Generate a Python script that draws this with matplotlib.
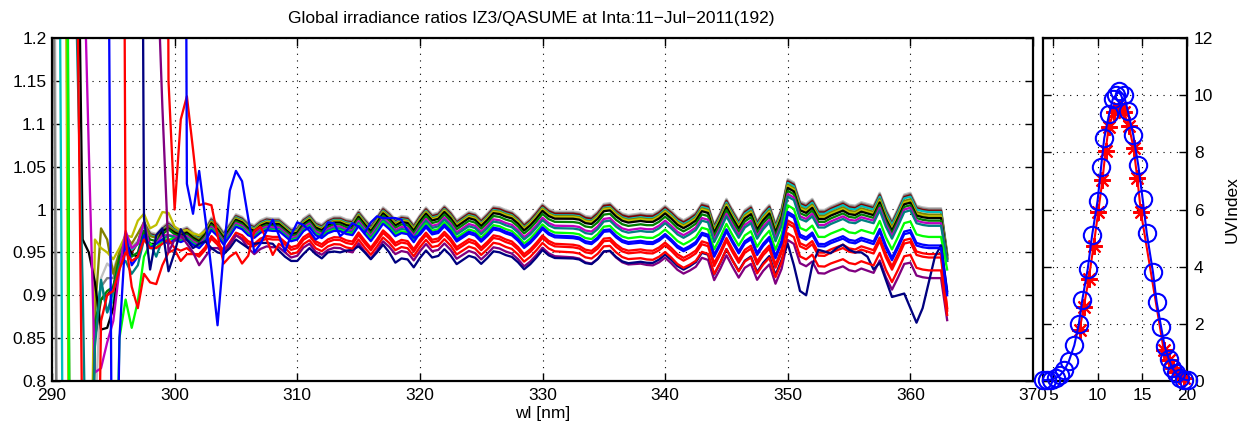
import numpy as np
import matplotlib
matplotlib.use('Agg')
import matplotlib.pyplot as plt

plt.rcParams['font.family'] = ['Liberation Sans', 'DejaVu Sans']

# ---------------- data ----------------
H = 3.0   # off-scale high value (clipped)
L = 0.4   # off-scale low value (clipped)

wl = 290 + 0.5 * np.arange(147)          # 290.0 ... 363.0 nm
band_wl = wl[12:]                        # 296.0 ... 363.0 nm

# common spectral structure of the ratio (upper grey curve), 296.0-363.0 nm
base = [
    0.965, 0.955, 0.962, 0.985, 0.972, 0.970, 0.978, 0.984, 0.978, 0.975,
    0.978, 0.972, 0.968, 0.976, 0.989, 0.982, 0.972, 0.982, 0.993, 0.990,
    0.983, 0.980, 0.986, 0.989, 0.988, 0.988, 0.982, 0.976, 0.978, 0.988,
    0.993, 0.984, 0.981, 0.987, 0.990, 0.990, 0.987, 0.986, 0.997, 0.988,
    0.980, 0.990, 1.001, 0.995, 0.987, 0.991, 0.990, 0.981, 0.992, 1.001,
    0.993, 0.995, 1.003, 0.996, 0.986, 0.991, 0.996, 0.994, 0.987, 0.994,
    1.002, 1.001, 0.998, 0.996, 0.990, 0.982, 0.988, 0.996, 1.005, 0.999,
    0.996, 0.996, 0.996, 0.996, 0.995, 0.991, 0.990, 0.996, 1.005, 1.006,
    0.999, 0.994, 0.992, 0.993, 0.994, 0.993, 0.993, 0.997, 1.003, 0.997,
    0.990, 0.986, 0.990, 0.995, 1.006, 1.004, 0.981, 0.995, 1.011, 0.998,
    0.986, 0.998, 1.003, 0.985, 0.996, 1.004, 0.982, 1.000, 1.034, 1.030,
    1.008, 1.005, 1.011, 0.998, 0.998, 1.002, 1.005, 1.008, 1.004, 1.003,
    1.007, 1.005, 1.003, 1.018, 0.999, 0.985, 1.000, 1.016, 1.018, 1.003,
    1.001, 1.000, 1.000, 1.000, 0.948,
]
off_wl = [310, 335, 360]   # wavelengths of the offset readings

# per-scan readings (short-wavelength part, offsets from the grey curve, last value)
gray_early = [1.6, 0.4, 0.4, 0.4, 0.4, 0.4, 0.5, 0.88, 0.91, 0.92, 0.92, 0.945]
silver_early = [1.9, 0.5, 0.5, 0.5, 0.5, 0.5, 0.5, 0.75, 0.92, 0.937, 0.93, 0.95]
cyan_early = [2.5, 1.6, 0.4, 0.4, 0.4, 0.4, 0.5, 0.86, 0.915, 0.88, 0.895, 0.95]
yellow_early = [H, H, 1.6, 0.4, 0.4, 0.4, 0.5, 0.965, 0.955, 0.950, 0.942, 0.955,
                0.970, 0.968, 0.987, 0.995, 0.978, 0.982, 0.997, 0.996, 0.980,
                0.975, 0.976, 0.972, 0.970, 0.975]
dkgreen_early = [H, H, 2.4, 0.4, 0.4, 0.4, 0.5, 0.87, 0.895, 0.905, 0.91, 0.945,
                 0.955, 0.945, 0.95, 0.975]
olive_early = [H, H, 2.2, 0.4, 0.4, 0.4, 0.5, 0.88, 0.978, 0.965, 0.925, 0.95,
               0.97, 0.96, 0.972, 0.985]
maroon_early = [H, H, 2.0, 0.4, 0.4, 0.4, 0.5, 0.85, 0.895, 0.9, 0.91, 0.94,
                0.96, 0.95]
teal_early = [H, H, H, H, 1.22, 0.91, 0.5, 0.84, 0.918, 0.88, 0.905, 0.935,
              0.94, 0.925, 0.935, 0.965, 0.96, 0.945, 0.965, 0.97]
black_early = [H, H, H, H, 1.5, 0.965, 0.95, 0.915, 0.86, 0.862, 0.885, 0.935,
               0.962, 0.948, 0.945, 0.975, 0.96, 0.96, 0.975, 0.978]
magenta_early = [H, H, H, H, H, 1.35, 1.07, 0.81, 0.815, 0.845, 0.87, 0.93,
                 0.975, 0.955, 0.96, 0.985, 0.955, 0.96, 0.97, 0.97]
green_early = [H, H, 2.3, 0.4, 0.4, 0.4, 0.4, 0.4, 0.4, 0.4, 0.5, 0.85,
               0.895, 0.862, 0.893, 0.945, 0.96, 0.955, 0.965, 0.965]
blue1_early = [H, H, H, H, H, H, H, H, H, 1.6, 0.4, 0.85,
               0.972, 0.935, 0.945, 0.97, 0.955, 0.96, 0.965, 0.96]
redB_early = [H, H, H, H, 1.35, 0.7, 0.4, 0.4, 0.87, 0.9, 0.905, 0.93,
              0.95, 0.94, 0.945, 0.965, 0.955, 0.955, 0.96, 0.965]
redA_early = [H, H, H, H, H, H, H, H, H, H, H, 2.6,
              0.965, 0.91, 0.885, 0.925, 0.915, 0.913, 0.935, 0.95, 0.953,
              0.94, 0.948, 0.948, 0.948]
purple_early = [H] * 17 + [1.32, 1.12, 0.95, 0.965, 0.97, 0.96, 0.95, 0.935,
                           0.945, 0.955, 0.955, 0.95, 0.96, 0.97, 0.965, 0.955]
navy_early = [H] * 14 + [2.5, 0.99, 0.93, 0.97, 0.978, 0.928, 0.95, 0.977, 0.965,
                         0.955, 0.96, 0.963, 0.955, 0.95, 0.948, 0.955, 0.965,
                         0.96, 0.955, 0.96, 0.961, 0.961, 0.96, 0.952, 0.945,
                         0.94, 0.94, 0.948, 0.955, 0.948, 0.943, 0.95, 0.951,
                         0.95, 0.952, 0.953, 0.957, 0.95, 0.942, 0.95, 0.959,
                         0.95, 0.938]
navy_tail = [0.960, 0.935, 0.905, 0.900, 0.935, 0.953, 0.951, 0.949, 0.955,
             0.959, 0.953, 0.950, 0.950, 0.945, 0.930, 0.938, 0.918, 0.898,
             0.900, 0.902, 0.885, 0.868, 0.885, 0.915, 0.945, 0.958, 0.903]
redC_early = [H] * 19 + [1.15, 1.0, 1.105, 1.132, 1.07, 1.005, 1.007, 1.005,
                         0.97, 0.937, 0.945, 0.95, 0.937, 0.946, 0.975, 0.98,
                         0.965, 0.947, 0.96, 0.955]
blueE_early = [H] * 22 + [1.03, 0.995, 1.045, 0.99, 0.93, 0.865, 0.95, 1.022,
                          1.045, 1.033, 0.99, 0.95, 0.96, 0.975, 0.988, 0.97,
                          0.951, 0.97, 0.985, 0.982, 0.975, 0.965, 0.97, 0.985,
                          0.984, 0.969, 0.975, 0.984, 0.98, 0.973, 0.985, 0.992,
                          0.99, 0.99, 0.99, 0.988, 0.975, 0.967]

scan_colors = ['#c0c0c0', '#808080', '#800000', 'c', '#808000', 'y', 'k',
               '#008000', 'm', '#008080', '#00ff00', 'b', '#ff0000', '#ff0000',
               '#800080', '#000080', '#ff0000', '#0000ff']
scan_early = [silver_early, gray_early, maroon_early, cyan_early, olive_early,
              yellow_early, black_early, dkgreen_early, magenta_early,
              teal_early, green_early, blue1_early, redB_early, redA_early,
              purple_early, navy_early, redC_early, blueE_early]
scan_offsets = [(0.0015, 0.0015, 0.0015), (0, 0, 0), (-0.001, -0.001, -0.0015),
                (-0.002, -0.003, -0.003), (-0.003, -0.004, -0.006),
                (-0.004, -0.005, -0.008), (-0.005, -0.007, -0.010),
                (-0.007, -0.011, -0.013), (-0.009, -0.016, -0.016),
                (-0.011, -0.019, -0.019), (-0.012, -0.025, -0.032),
                (-0.013, -0.029, -0.042), (-0.023, -0.042, -0.056),
                (-0.020, -0.039, -0.052), (-0.032, -0.054, -0.080),
                (-0.045, -0.054, -0.062), (-0.028, -0.048, -0.071),
                (-0.015, -0.031, -0.045)]
scan_end = [0.950, 0.948, 0.947, 0.946, 0.945, 0.944, 0.943, 0.942, 0.940,
            0.940, 0.930, 0.905, 0.882, 0.885, 0.871, None, 0.877, 0.900]

# UV index time series
qasume_hours = [3.95, 4.3, 4.8, 5.3, 5.8, 6.3, 6.8, 7.4, 7.9, 8.3, 8.9, 9.4,
                10.0, 10.4, 10.75, 11.3, 11.7, 12.05, 12.45, 12.95, 13.4,
                14.0, 14.55, 15.05, 15.5, 16.2, 16.6, 17.1, 17.5, 17.95,
                18.35, 18.8, 19.2, 19.7, 20.15]
qasume_uvi = [0.03, 0.03, 0.05, 0.1, 0.2, 0.38, 0.7, 1.25, 1.98, 2.85, 3.92,
              5.12, 6.3, 7.5, 8.5, 9.35, 9.86, 10.0, 10.15, 10.0, 9.43, 8.6,
              7.55, 6.35, 5.17, 3.8, 2.78, 1.9, 1.22, 0.78, 0.45, 0.27, 0.12,
              0.05, 0.02]
iz3_hours = [8.0, 8.45, 9.02, 9.55, 10.07, 10.55, 10.9, 11.25, 11.85, 12.4,
             12.95, 13.5, 14.03, 14.44, 14.85, 17.4, 17.95, 18.42, 18.8,
             19.25, 19.65]
iz3_uvi = [1.8, 2.58, 3.58, 4.72, 5.9, 7.04, 8.06, 8.9, 9.42, 9.55, 9.4, 8.92,
           8.15, 7.1, 5.9, 1.08, 0.72, 0.45, 0.3, 0.16, 0.1]

xticks_main = [290, 300, 310, 320, 330, 340, 350, 360, 370]
yticks_main = [0.8, 0.85, 0.9, 0.95, 1.0, 1.05, 1.1, 1.15, 1.2]
yticklabels_main = ['0.8', '0.85', '0.9', '0.95', '1', '1.05', '1.1', '1.15', '1.2']
xticks_uv = [5, 10, 15, 20]
yticks_uv = [0, 2, 4, 6, 8, 10, 12]


def build(early, offs, end, tail=None):
    band = np.array(base, float) + np.interp(band_wl, off_wl, offs)
    y = np.concatenate([np.full(12, np.nan), band])
    y[:len(early)] = early
    if tail is not None:
        y[-len(tail):] = tail
    else:
        y[-1] = end
    return y


# ---------------- figure ----------------
W, Hp = 1249, 432
fig = plt.figure(figsize=(W / 100, Hp / 100), dpi=100)
FS = 12.5
grid_kw = dict(linestyle=(0, (1, 5)), color='k', linewidth=0.8)

ax = fig.add_axes([52 / W, 1 - 381 / Hp, (1033 - 52) / W, (381 - 38) / Hp])
for c, e, o, en in zip(scan_colors, scan_early, scan_offsets, scan_end):
    tail = navy_tail if en is None else None
    ax.plot(wl, build(e, o, en, tail), color=c, lw=1.65)

ax.set_xlim(290, 370)
ax.set_ylim(0.8, 1.2)
ax.set_xticks(xticks_main)
ax.set_yticks(yticks_main)
ax.set_yticklabels(yticklabels_main)
ax.grid(True, **grid_kw)
ax.set_axisbelow(True)
ax.tick_params(direction='in', top=True, right=True, length=6, width=1,
               labelsize=FS, pad=5)
ax.tick_params(axis='y', pad=4)
ax.set_xlabel('wl [nm]', fontsize=FS, labelpad=2)
for s in ax.spines.values():
    s.set_linewidth(1.6)

ax2 = fig.add_axes([1043 / W, 1 - 381 / Hp, (1187 - 1043) / W, (381 - 38) / Hp])
ax2.plot(iz3_hours, iz3_uvi, color='r', lw=1.5, marker=(8, 2, 0),
         markersize=12, markeredgewidth=1.5, clip_on=False, zorder=3)
ax2.plot(qasume_hours, qasume_uvi, color='b', lw=1.5, marker='o',
         markersize=12.5, markerfacecolor='none', markeredgewidth=1.5,
         clip_on=False, zorder=4)
ax2.set_xlim(3.9, 20)
ax2.set_ylim(0, 12)
ax2.set_xticks(xticks_uv)
ax2.set_yticks(yticks_uv)
ax2.grid(True, **grid_kw)
ax2.set_axisbelow(True)
ax2.yaxis.set_label_position('right')
ax2.tick_params(direction='in', top=True, right=True, left=True, bottom=True,
                labelleft=False, labelright=True, length=6, width=1,
                labelsize=FS, pad=5)
ax2.set_ylabel('UVIndex', fontsize=FS, labelpad=8)
for s in ax2.spines.values():
    s.set_linewidth(1.6)

fig.text(531 / W, 1 - 18 / Hp,
         'Global irradiance ratios IZ3/QASUME at Inta:11\u2212Jul\u22122011(192)',
         ha='center', va='center', fontsize=FS)

fig.savefig('out.png', dpi=100)
